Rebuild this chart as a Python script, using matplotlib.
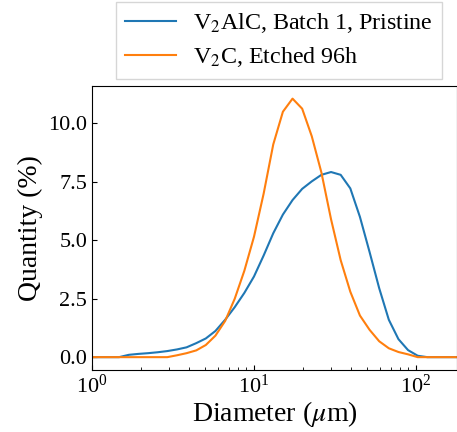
import matplotlib
matplotlib.use("Agg")
import matplotlib.pyplot as plt

# particle size distribution (log-spaced diameters, um)
diameter = [0.5, 1.0, 1.47, 1.69, 1.94, 2.22, 2.55, 2.92, 3.35, 3.84, 4.41, 5.05,
            5.79, 6.65, 7.62, 8.74, 10.02, 11.50, 13.18, 15.12, 17.34, 19.89,
            22.80, 26.15, 29.99, 34.40, 39.45, 45.24, 51.88, 59.50, 68.23,
            78.25, 89.74, 102.9, 118.0, 135.4, 300.0]

pristine = [0, 0, 0, 0.10, 0.14, 0.17, 0.21, 0.26, 0.33, 0.42, 0.60, 0.80,
            1.12, 1.60, 2.14, 2.75, 3.45, 4.35, 5.30, 6.10, 6.72, 7.20,
            7.52, 7.80, 7.92, 7.80, 7.22, 6.00, 4.50, 2.95, 1.60,
            0.77, 0.30, 0.06, 0, 0, 0]

etched = [0, 0, 0, 0, 0, 0, 0, 0, 0.08, 0.17, 0.29, 0.52,
          0.92, 1.55, 2.50, 3.70, 5.15, 7.00, 9.10, 10.50, 11.06, 10.63,
          9.45, 7.90, 5.90, 4.15, 2.80, 1.78, 1.17, 0.68, 0.38,
          0.22, 0.12, 0, 0, 0, 0]

plt.rcParams['font.family'] = ['Liberation Serif', 'DejaVu Serif']
plt.rcParams['mathtext.fontset'] = 'stix'
plt.rcParams['font.size'] = 16

fig = plt.figure(figsize=(4.57, 4.32), dpi=100)
ax = fig.add_axes([0.2013, 0.1435, 0.7987, 0.6574])

ax.plot(diameter, pristine, color='tab:blue', lw=1.5, label='V$_2$AlC, Batch 1, Pristine')
ax.plot(diameter, etched, color='tab:orange', lw=1.5, label='V$_2$C, Etched 96h')

ax.set_xscale('log')
ax.set_xlim(1, 180)
ax.set_ylim(-0.55, 11.6)
ax.set_yticks([0, 2.5, 5.0, 7.5, 10.0])
ax.tick_params(which='both', direction='in', labelsize=16)

ax.set_xlabel(r'Diameter ($\mu$m)', fontsize=20, labelpad=1)
ax.set_ylabel('Quantity (%)', fontsize=20)

ax.legend(loc='lower center', bbox_to_anchor=(0.512, 1.025), fontsize=17.3,
          fancybox=False, handlelength=2.1, handletextpad=0.7,
          borderaxespad=0, labelspacing=0.42)

fig.savefig('out.png', dpi=100)
